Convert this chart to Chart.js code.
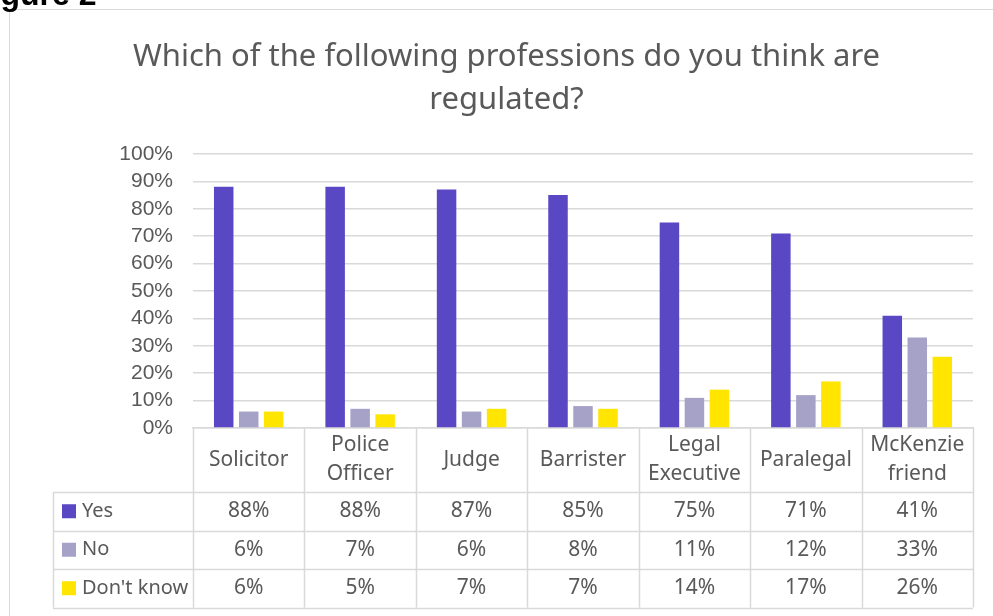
<!DOCTYPE html>
<html>
<head>
<meta charset="utf-8">
<script src="https://cdn.jsdelivr.net/npm/chart.js@4.4.1/dist/chart.umd.min.js"></script>
<style>
  html, body { margin: 0; padding: 0; background: #fff; overflow: hidden; }
  #wrap { position: relative; width: 993px; height: 616px; }
  #fig { position: absolute; left: -28px; top: -22px; font: bold 32px "Liberation Sans", Arial, sans-serif; color: #000; line-height: 32px; white-space: nowrap; }
  canvas { position: absolute; left: 0; top: 0; }
</style>
</head>
<body>
<div id="wrap">
  <canvas id="myChart" width="993" height="616"></canvas>
  <div id="fig">Figure 2</div>
</div>
<script>
// survey results, percent of respondents
const professions = [["Solicitor"], ["Police", "Officer"], ["Judge"], ["Barrister"], ["Legal", "Executive"], ["Paralegal"], ["McKenzie", "friend"]];
const yesValues = [88, 88, 87, 85, 75, 71, 41];
const noValues = [6, 7, 6, 8, 11, 12, 33];
const dontKnowValues = [6, 5, 7, 7, 14, 17, 26];
const yTicks = [0, 10, 20, 30, 40, 50, 60, 70, 80, 90, 100];

const textColor = "#595959";
const lineColor = "#d9d9d9";
const tableFont = '"Noto Sans", sans-serif';

// frame lines round the figure
const framePlugin = {
	id: "frame",
	beforeDraw(chart) {
		const ctx = chart.ctx;
		ctx.save();
		ctx.strokeStyle = lineColor;
		ctx.lineWidth = 1;
		ctx.beginPath();
		ctx.moveTo(9.5, 616);
		ctx.lineTo(9.5, 9.5);
		ctx.lineTo(993, 9.5);
		ctx.stroke();
		ctx.restore();
	}
};

// data table under the x axis, columns follow the category scale
const tablePlugin = {
	id: "dataTable",
	afterDraw(chart) {
		const ctx = chart.ctx;
		const area = chart.chartArea;
		const xs = chart.scales.x;
		const n = chart.data.labels.length;
		const colW = (area.right - area.left) / n;
		const top = area.bottom;
		const headH = 64;
		const rowH = 38.5;
		const tableLeft = 53;
		const bottom = top + headH + rowH * chart.data.datasets.length;

		ctx.save();
		ctx.strokeStyle = lineColor;
		ctx.lineWidth = 1.5;
		ctx.beginPath();
		for (let i = 0; i <= n; i++) {
			const x = Math.round(area.left + i * colW) + 0.5;
			ctx.moveTo(x, top);
			ctx.lineTo(x, bottom);
		}
		for (let r = 0; r <= chart.data.datasets.length; r++) {
			const y = Math.round(top + headH + r * rowH) + 0.5;
			ctx.moveTo(tableLeft, y);
			ctx.lineTo(area.right, y);
		}
		ctx.moveTo(tableLeft + 0.5, top + headH);
		ctx.lineTo(tableLeft + 0.5, bottom);
		ctx.stroke();

		ctx.fillStyle = textColor;
		ctx.font = "21px " + tableFont;
		ctx.textAlign = "center";
		ctx.textBaseline = "middle";
		chart.data.labels.forEach(function(lab, i) {
			const cx = xs.getPixelForValue(i);
			const cy = top + headH / 2;
			if (lab.length === 1) {
				ctx.fillText(lab[0], cx, cy);
			} else {
				ctx.fillText(lab[0], cx, cy - 15);
				ctx.fillText(lab[1], cx, cy + 14);
			}
		});

		chart.data.datasets.forEach(function(ds, r) {
			const cy = top + headH + r * rowH + rowH / 2;
			ctx.fillStyle = ds.backgroundColor;
			ctx.fillRect(tableLeft + 9, cy - 7, 14, 14);
			ctx.fillStyle = textColor;
			ctx.textAlign = "left";
			ctx.font = "20px " + tableFont;
			ctx.fillText(ds.label, tableLeft + 29, cy);
			ctx.textAlign = "center";
			ctx.font = "21px " + tableFont;
			ds.data.forEach(function(v, i) {
				ctx.fillText(v + "%", xs.getPixelForValue(i), cy);
			});
		});
		ctx.restore();
	}
};

const ctx = document.getElementById("myChart").getContext("2d");
const myChart = new Chart(ctx, {
	type: "bar",
	data: {
		labels: professions,
		datasets: [
			{ label: "Yes", data: yesValues, backgroundColor: "#5a47c4" },
			{ label: "No", data: noValues, backgroundColor: "#a6a1c7" },
			{ label: "Don't know", data: dontKnowValues, backgroundColor: "#ffe500" }
		]
	},
	options: {
		responsive: false,
		animation: false,
		categoryPercentage: 0.673,
		barPercentage: 0.78,
		layout: { padding: { left: 40, right: 20, top: 10, bottom: 180 } },
		plugins: {
			legend: { display: false },
			tooltip: { enabled: false },
			title: {
				display: true,
				text: ["Which of the following professions do you think are", "regulated?"],
				color: textColor,
				font: { family: tableFont, size: 31, weight: "normal", lineHeight: 1.387 },
				padding: { top: 25.5, bottom: 32.5 }
			}
		},
		scales: {
			x: {
				ticks: { display: false },
				grid: { display: false },
				border: { display: true, color: lineColor, width: 1.5 }
			},
			y: {
				min: 0,
				max: 100,
				afterFit(scale) { scale.width = 153; },
				afterBuildTicks(scale) { scale.ticks = yTicks.map(v => ({ value: v })); },
				ticks: {
					color: textColor,
					padding: 20,
					autoSkip: false,
					font: { family: '"Liberation Sans", Arial, sans-serif', size: 21 },
					callback: v => v + "%"
				},
				grid: { color: lineColor, lineWidth: 1.5, drawTicks: false },
				border: { display: false }
			}
		}
	},
	plugins: [framePlugin, tablePlugin]
});
</script>
</body>
</html>
